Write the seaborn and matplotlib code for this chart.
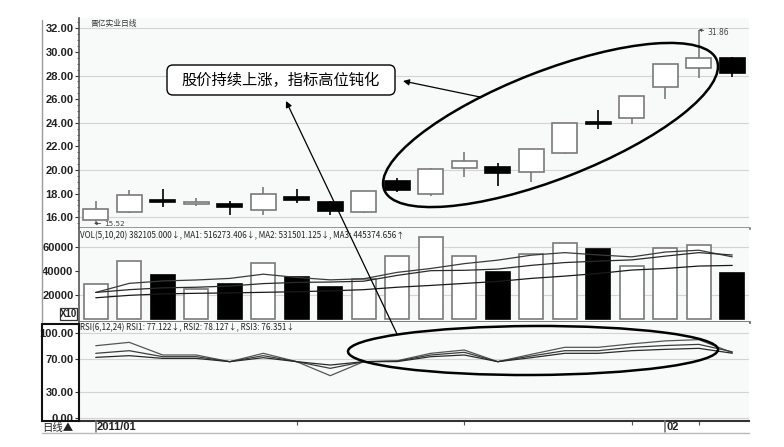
import numpy as np
import pandas as pd
import matplotlib
matplotlib.use("Agg")
import matplotlib.pyplot as plt
import seaborn as sns
from matplotlib.patches import Ellipse, FancyBboxPatch, Rectangle, FancyArrowPatch
from matplotlib.lines import Line2D
from matplotlib.transforms import Affine2D, blended_transform_factory

# ---------------- data ----------------
day_index = list(range(20))
open_p = [15.80, 16.45, 17.45, 17.10, 17.10, 16.60, 17.70, 17.25, 16.45, 19.10,
          17.95, 20.15, 20.25, 19.85, 21.45, 24.05, 24.40, 27.00, 28.65, 29.45]
close_p = [16.70, 17.90, 17.30, 17.32, 16.90, 18.00, 17.45, 16.55, 18.20, 18.30,
           20.10, 20.75, 19.75, 21.75, 23.95, 23.90, 26.30, 28.95, 29.50, 28.25]
high_p = [17.38, 18.30, 18.40, 17.66, 17.40, 18.60, 18.37, 17.40, 18.25, 19.36,
          20.15, 21.56, 20.58, 21.76, 23.96, 25.10, 26.30, 28.95, 31.86, 29.55]
low_p = [15.52, 16.40, 16.85, 16.98, 16.20, 16.20, 17.17, 16.20, 16.35, 18.10,
         17.80, 19.45, 18.68, 19.02, 21.34, 23.45, 23.90, 26.02, 27.77, 27.85]

volume = [29000, 48500, 37000, 25400, 29200, 46600, 34700, 27000, 33100, 52400,
          67900, 52100, 38900, 53800, 62900, 58200, 44400, 58750, 61250, 38210]
volume_up = [1, 1, 0, 1, 0, 1, 0, 0, 1, 1, 1, 1, 0, 1, 1, 0, 1, 1, 1, 0]
vol_ma5 = [22200, 29700, 31700, 32500, 33800, 37300, 34600, 32600, 33500, 38800,
           42000, 46000, 48900, 53000, 55100, 53200, 51600, 55600, 57100, 51627]
vol_ma10 = [22200, 24500, 26000, 26500, 27500, 29500, 30500, 30800, 31500, 36300,
            40200, 40500, 41500, 44600, 46900, 48100, 49100, 52200, 55100, 53150]
vol_ma20 = [17800, 19800, 21000, 21500, 21800, 22300, 22800, 23500, 24500, 26500,
            28000, 29650, 31300, 33800, 35700, 37900, 40700, 42000, 44000, 44537]

rsi1 = [85.3, 89.3, 74.3, 74.3, 66.4, 76.3, 66.4, 49.8, 66.4, 67.5,
        76.3, 80.2, 66.4, 75.1, 83.4, 83.4, 87.5, 91.0, 92.5, 77.1]
rsi2 = [76.3, 79.4, 72.3, 72.3, 66.4, 73.5, 66.4, 58.5, 66.4, 67.0,
        74.3, 77.5, 66.4, 73.1, 79.4, 79.4, 83.4, 85.5, 86.9, 78.1]
rsi3 = [71.5, 73.5, 70.3, 70.3, 66.4, 71.1, 66.4, 62.4, 66.4, 66.5,
        72.3, 74.3, 66.4, 71.1, 76.3, 76.3, 79.4, 81.0, 82.2, 76.4]

price_ticks = [16, 18, 20, 22, 24, 26, 28, 30, 32]
price_grid = [16, 20, 24, 28, 32]
vol_ticks = [20000, 40000, 60000]
vol_grid = [20000, 60000]
rsi_ticks = [0, 30, 70, 100]
date_label_pos = [0, 17]
date_labels = ["2011/01", "02"]
date_minor = [6, 11, 16, 18]

title_text = "晋亿实业日线"
vol_header = "VOL(5,10,20) 382105.000↓, MA1: 516273.406↓, MA2: 531501.125↓, MA3: 445374.656↑"
rsi_header = "RSI(6,12,24) RSI1: 77.122↓, RSI2: 78.127↓, RSI3: 76.351↓"
note_text = "股价持续上涨，指标高位钝化"

# ---------------- style ----------------
sns.set_theme(style="white")
plt.rcParams["font.family"] = ["DejaVu Sans"]
NARROW = ["Liberation Sans Narrow", "Liberation Sans", "DejaVu Sans"]
CJK = ["Noto Sans CJK SC", "DejaVu Sans"]

W, H = 784, 447
fig = plt.figure(figsize=(W / 100, H / 100), dpi=100)
fig.patch.set_facecolor("white")
px = Affine2D().scale(1 / W, -1 / H).translate(0, 1) + fig.transFigure


def ax_px(x0, y0, x1, y1):
    return fig.add_axes([x0 / W, 1 - y1 / H, (x1 - x0) / W, (y1 - y0) / H])


ax_p = ax_px(79, 18, 749, 228)
ax_v = ax_px(79, 228, 749, 322)
ax_r = ax_px(79, 322, 749, 421)

BG = "#f8f9f9"
GRID = "#d4d4d4"
EDGE = "#7a7a7a"

for ax in (ax_p, ax_v, ax_r):
    ax.set_facecolor(BG)
    ax.set_xlim(-0.5, 19.5)
    ax.spines["top"].set_visible(False)
    ax.spines["right"].set_visible(False)
    ax.spines["left"].set_color("#555555")
    ax.spines["left"].set_linewidth(1.2)
    ax.tick_params(axis="y", which="major", direction="out", length=3, width=0.8,
                   color="#333333", pad=1, left=True)
    ax.tick_params(axis="x", which="both", bottom=False, labelbottom=False)

ax_p.spines["bottom"].set_color("#8c8c8c")
ax_p.spines["bottom"].set_linewidth(2.0)
ax_v.spines["bottom"].set_color("#6e6e6e")
ax_v.spines["bottom"].set_linewidth(2.0)
ax_r.spines["bottom"].set_color("#333333")
ax_r.spines["bottom"].set_linewidth(1.5)

# ---------------- price panel ----------------
df = pd.DataFrame({"i": day_index, "o": open_p, "c": close_p, "h": high_p, "l": low_p})
df["up"] = df["c"] >= df["o"]
df["bot"] = df[["o", "c"]].min(axis=1)
df["hgt"] = (df["c"] - df["o"]).abs().clip(lower=0.06)
for y in price_grid:
    ax_p.axhline(y, color=GRID, lw=0.8, zorder=0)
up = df[df["up"]]
dn = df[~df["up"]]
ax_p.vlines(up["i"], up["l"], up["h"], color=EDGE, lw=1.2, zorder=2)
ax_p.vlines(dn["i"], dn["l"], dn["h"], color="black", lw=1.2, zorder=2)
ax_p.bar(up["i"], up["hgt"], bottom=up["bot"], width=0.74, facecolor="white",
         edgecolor=EDGE, lw=1.2, zorder=3)
ax_p.bar(dn["i"], dn["hgt"], bottom=dn["bot"], width=0.74, facecolor="black",
         edgecolor="black", lw=1.2, zorder=3)
ax_p.set_ylim(15.09, 32.87)
ax_p.set_yticks(price_ticks)
ax_p.set_yticklabels([f"{v:.2f}" for v in price_ticks])
ax_p.set_yticks(np.arange(15.5, 32.6, 0.5), minor=True)
ax_p.tick_params(axis="y", which="minor", direction="out", length=1.5, width=0.6,
                 color="#555555", left=True)

lo_i = int(np.argmin(low_p))
hi_i = int(np.argmax(high_p))
ax_p.annotate(f"{low_p[lo_i]:.2f}", xy=(lo_i - 0.05, low_p[lo_i] - 0.05),
              xytext=(7, 0), textcoords="offset points", fontsize=5.2,
              color="#444444", va="center", ha="left",
              arrowprops=dict(arrowstyle="-|>", lw=0.6, color="#444444",
                              mutation_scale=4, shrinkA=0, shrinkB=0))
ax_p.annotate(f"{high_p[hi_i]:.2f}", xy=(hi_i, high_p[hi_i]),
              xytext=(6, -1.5), textcoords="offset points", fontsize=5.5,
              color="#444444", va="center", ha="left",
              arrowprops=dict(arrowstyle="-|>", lw=0.6, color="#444444",
                              mutation_scale=4, shrinkA=0, shrinkB=0))

# ---------------- volume panel ----------------
vdf = pd.DataFrame({"i": day_index, "v": volume, "up": volume_up,
                    "ma5": vol_ma5, "ma10": vol_ma10, "ma20": vol_ma20})
for y in vol_grid:
    ax_v.axhline(y, color=GRID, lw=0.8, zorder=0)
vu = vdf[vdf["up"] == 1]
vd = vdf[vdf["up"] == 0]
ax_v.bar(vu["i"], vu["v"], width=0.73, facecolor="white", edgecolor=EDGE, lw=1.2, zorder=2)
ax_v.bar(vd["i"], vd["v"], width=0.73, facecolor="black", edgecolor="black", lw=1.2, zorder=2)
for col, c in (("ma5", "#3a3a3a"), ("ma10", "#2a2a2a"), ("ma20", "#1a1a1a")):
    sns.lineplot(data=vdf, x="i", y=col, ax=ax_v, color=c, lw=0.9, legend=False, zorder=4)
ax_v.set_ylim(-2230, 75460)
ax_v.set_yticks(vol_ticks)
ax_v.set_yticklabels([str(v) for v in vol_ticks])
ax_v.set_xlabel("")
ax_v.set_ylabel("")

# ---------------- RSI panel ----------------
rdf = pd.DataFrame({"i": day_index, "r1": rsi1, "r2": rsi2, "r3": rsi3})
for y in rsi_ticks:
    ax_r.axhline(y, color=GRID, lw=0.8, zorder=0)
for col, c in (("r1", "#555555"), ("r2", "#3c3c3c"), ("r3", "#2a2a2a")):
    sns.lineplot(data=rdf, x="i", y=col, ax=ax_r, color=c, lw=0.9, legend=False, zorder=3)
ax_r.set_ylim(-3.9, 113.4)
ax_r.set_yticks(rsi_ticks)
ax_r.set_yticklabels([f"{v:.2f}" for v in rsi_ticks])
ax_r.set_xlabel("")
ax_r.set_ylabel("")
ax_p.set_xlabel("")
ax_p.set_ylabel("")

for ax in (ax_p, ax_v, ax_r):
    for lab in ax.get_yticklabels():
        lab.set_fontfamily(NARROW)
        lab.set_fontweight("bold")
        lab.set_fontsize(8)
        lab.set_color("#222222")

# date axis ticks
ax_r.set_xticks(date_minor, minor=True)
ax_r.tick_params(axis="x", which="minor", bottom=True, direction="out", length=3,
                 width=0.8, color="#555555")
bt = blended_transform_factory(ax_r.transData, px)
for pos, lab in zip(date_label_pos, date_labels):
    fig.add_artist(Line2D([pos, pos], [421, 432], transform=bt, color="#777777", lw=1.2))
    fig.text(pos + 0.04, 427.5, lab, transform=bt, fontsize=8, fontweight="bold",
             family=NARROW, color="#222222", va="center", ha="left")

# ---------------- header texts ----------------
fig.text(91, 24, title_text, transform=px, fontsize=5.6, family=CJK,
         color="#333333", va="center", ha="left")
fig.text(80.5, 235.5, vol_header, transform=px, fontsize=5.8, family=CJK,
         color="#222222", va="center", ha="left")
fig.text(80.5, 327.5, rsi_header, transform=px, fontsize=5.8, family=CJK,
         color="#222222", va="center", ha="left")

# ---------------- frame decorations ----------------
fig.add_artist(Line2D([42, 42], [20, 322], transform=px, color="#9a9a9a", lw=1.0))
fig.add_artist(Rectangle((42, 324), 37, 97, transform=px, fill=False,
                         edgecolor="#111111", lw=1.5))
fig.add_artist(Line2D([42, 749], [433, 433], transform=px, color="#bbbbbb", lw=1.0))
fig.add_artist(Rectangle((60, 308), 17.5, 12, transform=px, facecolor="white",
                         edgecolor="#333333", lw=0.9))
fig.text(68.8, 314.3, "X10", transform=px, fontsize=7, fontweight="bold",
         family=NARROW, color="#222222", va="center", ha="center")
fig.text(42, 427.5, "日线▲", transform=px, fontsize=7.5, family=CJK,
         color="#222222", va="center", ha="left")

# ---------------- annotations ----------------
fig.add_artist(Ellipse((550.5, 125), 357, 108, angle=-21.3, transform=px,
                       fill=False, edgecolor="black", lw=1.8))
fig.add_artist(Ellipse((533, 350.5), 370, 49, angle=-0.3, transform=px,
                       fill=False, edgecolor="black", lw=1.8))
fig.add_artist(FancyBboxPatch((170, 68), 222, 24, transform=px,
                              boxstyle="round,pad=3,rounding_size=6",
                              facecolor="white", edgecolor="black", lw=1.0))
fig.text(281, 80.5, note_text, transform=px, fontsize=11, family=CJK,
         color="black", va="center", ha="center")
fig.add_artist(FancyArrowPatch(posA=(480, 97), posB=(403, 81), transform=px,
                               arrowstyle="-|>", mutation_scale=9, lw=0.9,
                               color="black", shrinkA=0, shrinkB=0))
fig.add_artist(FancyArrowPatch(posA=(397, 334), posB=(286, 101), transform=px,
                               arrowstyle="-|>", mutation_scale=9, lw=0.9,
                               color="black", shrinkA=0, shrinkB=0))

fig.savefig("out.png", dpi=100, facecolor="white")
